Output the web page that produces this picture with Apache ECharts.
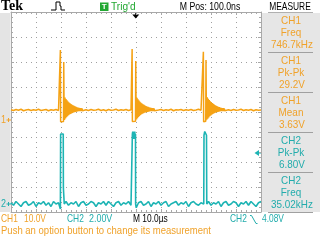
<!DOCTYPE html>
<html><head><meta charset="utf-8">
<script src="https://cdn.jsdelivr.net/npm/echarts@6/dist/echarts.min.js"></script>
<style>html,body{margin:0;padding:0;background:#fff}#c{width:320px;height:240px}</style>
</head><body><div id="c"></div>
<script>
// ---- data (time in µs, voltage in V) ----
const CH1_DATA = [
[-50,4.1],[-49,3.8],[-48,4.2],[-47,3.9],[-46,4.3],[-45,3.7],[-44,4.0],[-43,4.2],[-42,3.8],[-41,4.1],[-40,3.9],[-39,4.3],[-38,3.8],[-37,4.0],[-36,4.2],[-35,3.7],[-34,4.1],[-33,3.9],[-32,4.2],[-31,3.8],
[-30.4,3.9],[-30.25,28.0],[-30.15,-0.7],[-29.5,-0.9],[-29.0,-0.6],[-28.9,23.2],
[-28.8,9.6],[-28.6,0.0],[-28.4,9.0],[-28.2,0.6],[-28.0,8.4],[-27.8,1.1],[-27.6,7.9],[-27.4,1.5],[-27.2,7.4],[-27.0,1.9],[-26.8,7.0],[-26.6,2.2],[-26.4,6.7],[-26.2,2.4],[-26.0,6.4],[-25.8,2.6],[-25.6,6.1],[-25.4,2.8],[-25.2,5.9],[-25.0,3.0],[-24.8,5.7],[-24.6,3.1],[-24.4,5.5],[-24.2,3.2],[-24.0,5.3],[-23.8,3.3],[-23.6,5.1],[-23.4,3.4],[-23.2,5.0],[-23.0,3.5],[-22.8,4.9],[-22.6,3.5],[-22.4,4.8],[-22.2,3.6],[-22.0,4.7],[-21.8,3.6],[-21.6,4.6],[-21.4,3.7],[-21.2,4.5],[-21.0,3.7],[-20.8,4.4],[-20.6,3.8],
[-20,4.1],[-19,3.8],[-18,4.2],[-17,3.9],[-16,4.0],[-15,4.3],[-14,3.8],[-13,4.1],[-12,3.7],[-11,4.2],[-10,3.9],[-9,4.0],[-8,4.3],[-7,3.8],[-6,4.1],[-5,3.9],[-4,4.2],[-3,3.8],[-2,4.1],
[-1.7,3.9],[-1.55,28.4],[-1.45,-0.6],[-0.8,-0.9],[-0.2,-0.5],[-0.1,23.6],
[0.0,9.4],[0.2,0.2],[0.4,8.9],[0.6,0.7],[0.8,8.3],[1.0,1.2],[1.2,7.8],[1.4,1.6],[1.6,7.3],[1.8,2.0],[2.0,6.9],[2.2,2.3],[2.4,6.6],[2.6,2.5],[2.8,6.3],[3.0,2.7],[3.2,6.1],[3.4,2.9],[3.6,5.8],[3.8,3.0],[4.0,5.6],[4.2,3.1],[4.4,5.4],[4.6,3.2],[4.8,5.3],[5.0,3.3],[5.2,5.1],[5.4,3.4],[5.6,5.0],[5.8,3.5],[6.0,4.9],[6.2,3.5],[6.4,4.8],[6.6,3.6],[6.8,4.7],[7.0,3.6],[7.2,4.6],[7.4,3.7],[7.6,4.5],[7.8,3.8],[8.0,4.4],[8.2,3.8],
[9,4.0],[10,4.2],[11,3.8],[12,4.1],[13,3.9],[14,4.3],[15,3.7],[16,4.1],[17,4.0],[18,4.2],[19,3.8],[20,4.1],[21,3.9],[22,4.2],[23,3.8],[24,4.0],[25,4.3],[26,3.9],
[26.8,3.9],[26.95,27.3],[27.05,-0.7],[27.5,-0.9],[27.9,-0.5],[28.0,24.0],
[28.1,9.5],[28.3,0.1],[28.5,9.1],[28.7,0.5],[28.9,8.5],[29.1,1.0],[29.3,8.0],[29.5,1.5],[29.7,7.5],[29.9,1.8],[30.1,7.1],[30.3,2.1],[30.5,6.8],[30.7,2.4],[30.9,6.5],[31.1,2.6],[31.3,6.2],[31.5,2.8],[31.7,5.9],[31.9,3.0],[32.1,5.7],[32.3,3.1],[32.5,5.5],[32.7,3.2],[32.9,5.3],[33.1,3.3],[33.3,5.2],[33.5,3.4],[33.7,5.0],[33.9,3.5],[34.1,4.9],[34.3,3.5],[34.5,4.8],[34.7,3.6],[34.9,4.7],[35.1,3.6],[35.3,4.6],[35.5,3.7],[35.7,4.5],[35.9,3.7],[36.1,4.4],[36.3,3.8],
[37,4.1],[38,3.8],[39,4.2],[40,3.9],[41,4.0],[42,4.3],[43,3.8],[44,4.1],[45,3.9],[46,4.2],[47,3.7],[48,4.1],[49,3.9],[50,4.0]
];
const CH2_DATA = [
[-50,0.1],[-49,-0.1],[-48,0.2],[-47,0.0],[-46,-0.2],[-45,0.1],[-44,0.2],[-43,-0.1],[-42,0.0],[-41,0.2],[-40,-0.2],[-39,0.1],[-38,0.0],[-37,0.2],[-36,-0.1],[-35,0.1],[-34,-0.2],[-33,0.2],[-32,0.0],[-31,0.1],
[-30.4,0.0],[-30.25,-0.4],[-30.15,5.6],[-29.6,5.7],[-29.1,5.6],[-29.05,1.3],[-28.75,1.2],[-28.7,0.0],
[-28,0.2],[-27,-0.1],[-26,0.1],[-25,0.0],[-24,0.2],[-23,-0.2],[-22,0.1],[-21,0.2],[-20,-0.1],[-19,0.0],[-18,0.2],[-17,0.1],[-16,-0.2],[-15,0.1],[-14,0.0],[-13,0.2],[-12,-0.1],[-11,0.2],[-10,0.0],[-9,-0.2],[-8,0.1],[-7,0.2],[-6,-0.1],[-5,0.1],[-4,0.0],[-3,0.2],[-2,-0.1],
[-1.5,0.0],[-1.45,5.6],[-1.3,5.8],[-1.1,5.2],[-0.9,5.8],[-0.7,5.2],[-0.5,5.8],[-0.3,5.3],[-0.2,5.6],[-0.15,0.0],[0.1,-0.3],
[1,0.1],[2,0.2],[3,-0.1],[4,0.0],[5,0.2],[6,-0.2],[7,0.1],[8,0.0],[9,0.2],[10,-0.1],[11,0.1],[12,0.2],[13,-0.2],[14,0.0],[15,0.1],[16,0.2],[17,-0.1],[18,0.1],[19,0.0],[20,0.2],[21,-0.2],[22,0.1],[23,0.2],[24,0.0],[25,-0.1],[26,0.1],
[27.1,0.0],[27.2,5.5],[27.5,5.8],[27.9,5.8],[28.2,5.5],[28.3,0.0],
[29,0.2],[30,-0.1],[31,0.1],[32,0.0],[33,0.2],[34,-0.2],[35,0.1],[36,0.2],[37,-0.1],[38,0.0],[39,0.2],[40,0.1],[41,-0.2],[42,0.1],[43,0.0],[44,0.2],[45,-0.1],[46,0.2],[47,0.0],[48,-0.2],[49,0.1],[50,0.2]
];
const MEAS_CH = ['CH1','CH1','CH1','CH2','CH2'];
const MEAS_NAME = ['Freq','Pk-Pk','Mean','Pk-Pk','Freq'];
const MEAS_VALUE = ['746.7kHz','29.2V','3.63V','6.80V','35.02kHz'];
const CH1_SCALE_TXT = '10.0V', CH2_SCALE_TXT = '2.00V', TIME_SCALE_TXT = 'M 10.0\u00b5s';
const TRIG_TXT = '4.08V', MPOS_TXT = 'M Pos: 100.0ns';
const HELP_TXT = 'Push an option button to change its measurement';
const TRIG_LEVEL = 4.08, TRIG_TIME = -0.1;
const CH1_VDIV = 10, CH2_VDIV = 2, DIVS_Y = 4;

// ---- layout / style ----
const CH1_POS = -0.32, CH2_POS = -3.68; // ground position in divisions
const C1 = '#f5a214', C1T = '#f0a22a', C2 = '#1db4b4', C2T = '#22acac', GRN = '#22a832';
const GRID_C = '#a8a8a8', DOT_C = '#a0a0a0';
const FP = "'Liberation Sans',Arial,sans-serif";

function borderAxis(pos, split) {
  return {
    type:'value', position:pos,
    axisLine:{show:true,onZero:false,lineStyle:{color:GRID_C,width:1}},
    axisTick:{show:true,inside:true,length:3,lineStyle:{color:GRID_C}},
    minorTick:{show:true,splitNumber:5,length:2,lineStyle:{color:GRID_C}},
    axisLabel:{show:false},
    splitLine:{show:split,lineStyle:{color:DOT_C,type:[1,4],width:1}}
  };
}
const chart = echarts.init(document.getElementById('c'), null, {renderer:'canvas'});
const xa0 = Object.assign(borderAxis('bottom', true), {min:-50,max:50,interval:10});
const xa1 = Object.assign(borderAxis('top', false), {min:-50,max:50,interval:10});
const ya0 = Object.assign(borderAxis('left', true), {min:-DIVS_Y,max:DIVS_Y,interval:1});
const ya1 = Object.assign(borderAxis('right', false), {min:-DIVS_Y,max:DIVS_Y,interval:1});
const ya2 = {type:'value', show:false, min:(-DIVS_Y-CH1_POS)*CH1_VDIV, max:(DIVS_Y-CH1_POS)*CH1_VDIV};
const ya3 = {type:'value', show:false, min:(-DIVS_Y-CH2_POS)*CH2_VDIV, max:(DIVS_Y-CH2_POS)*CH2_VDIV};

chart.setOption({
  animation:false,
  backgroundColor:'#ffffff',
  grid:{left:11, top:12, width:250, height:200, show:false},
  xAxis:[xa0, xa1],
  yAxis:[ya0, ya1, ya2, ya3],
  series:[
    {type:'line', xAxisIndex:0, yAxisIndex:3, data:CH2_DATA, showSymbol:false, symbol:'none',
     lineStyle:{color:C2,width:1.6}, z:3},
    {type:'line', xAxisIndex:0, yAxisIndex:2, data:CH1_DATA, showSymbol:false, symbol:'none',
     lineStyle:{color:C1,width:1.5}, z:4}
  ]
});

const g = [];
function txt(x, y, text, fill, size, sx, align, weight) {
  g.push({type:'text', x:x, y:y, scaleX:sx, style:{text:text, fill:fill,
    font:(weight||'normal')+' '+size+'px '+FP, align:align||'left', verticalAlign:'middle'}});
}
// side backgrounds
g.push({type:'rect', shape:{x:0,y:13,width:10.5,height:199}, style:{fill:'#e4e4e4'}, z:-10});
g.push({type:'rect', shape:{x:262,y:13,width:58,height:199}, style:{fill:'#e6e6e6'}, z:-10});
// top bar
g.push({type:'text', x:1, y:6.5, style:{text:'Tek', fill:'#000', font:"bold 14px 'Liberation Serif','DejaVu Serif',serif", verticalAlign:'middle'}});
g.push({type:'polyline', shape:{points:[[51,10],[56,10],[56,2],[60,2],[60,6],[61,6],[61,10],[65,10]]}, style:{stroke:'#000',lineWidth:1,fill:null}});
g.push({type:'rect', shape:{x:100,y:2.5,width:8.5,height:8.5}, style:{fill:GRN}});
txt(104.25, 7, 'T', '#fff', 8, 1, 'center', 'bold');
txt(111, 7, "Trig'd", GRN, 11, 0.92);
txt(210, 7, MPOS_TXT, '#000', 10.5, 0.83, 'center');
txt(290, 7, 'MEASURE', '#000', 10.5, 0.8, 'center');
// measurement panel
for (let i = 0; i < MEAS_CH.length; i++) {
  const top = 12.5 + 40*i;
  const col = MEAS_CH[i] === 'CH1' ? C1T : C2T;
  txt(291, top+8.5, MEAS_CH[i], col, 11, 0.9, 'center');
  txt(291, top+20.5, MEAS_NAME[i], col, 11, 0.9, 'center');
  txt(292, top+32, MEAS_VALUE[i], col, 11, 0.9, 'center');
  g.push({type:'line', shape:{x1:268,y1:top+40,x2:313,y2:top+40}, style:{stroke:'#a0a0a0',lineWidth:1}});
}
g.push({type:'line', shape:{x1:268,y1:12.5,x2:313,y2:12.5}, style:{stroke:'#b0b0b0',lineWidth:1}});
// bottom bar
const by = 219.5, by2 = 231;
txt(1, by, 'CH1', C1T, 10.5, 0.8);
txt(24, by, CH1_SCALE_TXT, C1T, 10.5, 0.8);
txt(67, by, 'CH2', C2T, 10.5, 0.8);
txt(89, by, CH2_SCALE_TXT, C2T, 10.5, 0.85);
txt(133, by, TIME_SCALE_TXT, '#000', 10.5, 0.8);
txt(230, by, 'CH2', C2T, 10.5, 0.8);
g.push({type:'polyline', shape:{points:[[250,215.5],[251.5,215.5],[256,223.5],[257.5,223.5]]}, style:{stroke:C2T,lineWidth:1,fill:null}});
txt(262, by, TRIG_TXT, C2T, 10.5, 0.8);
txt(1, by2, HELP_TXT, C1T, 11, 0.865);

// markers positioned through the axes
const y1 = chart.convertToPixel({yAxisIndex:2}, 0);
const y2 = chart.convertToPixel({yAxisIndex:3}, 0);
const yT = chart.convertToPixel({yAxisIndex:3}, TRIG_LEVEL);
const xT = chart.convertToPixel({xAxisIndex:0}, TRIG_TIME);
function gnd(label, y, col) {
  txt(1, y, label, col, 10, 0.9);
  g.push({type:'line', shape:{x1:6.5,y1:y,x2:11,y2:y}, style:{stroke:col,lineWidth:1}});
  g.push({type:'line', shape:{x1:8.5,y1:y-2,x2:8.5,y2:y+2}, style:{stroke:col,lineWidth:1}});
}
gnd('1', y1, C1T);
gnd('2', y2, C2T);
g.push({type:'polygon', shape:{points:[[254.5,yT],[259,yT-3],[259,yT+3]]}, style:{fill:C2}});
g.push({type:'line', shape:{x1:258,y1:yT,x2:261,y2:yT}, style:{stroke:C2,lineWidth:1}});
g.push({type:'polygon', shape:{points:[[xT-3.5,14.5],[xT+3.5,14.5],[xT,18.5]]}, style:{fill:'#000'}});
g.push({type:'line', shape:{x1:xT,y1:12,x2:xT,y2:15}, style:{stroke:'#000',lineWidth:1}});

chart.setOption({graphic:g});
</script></body></html>
